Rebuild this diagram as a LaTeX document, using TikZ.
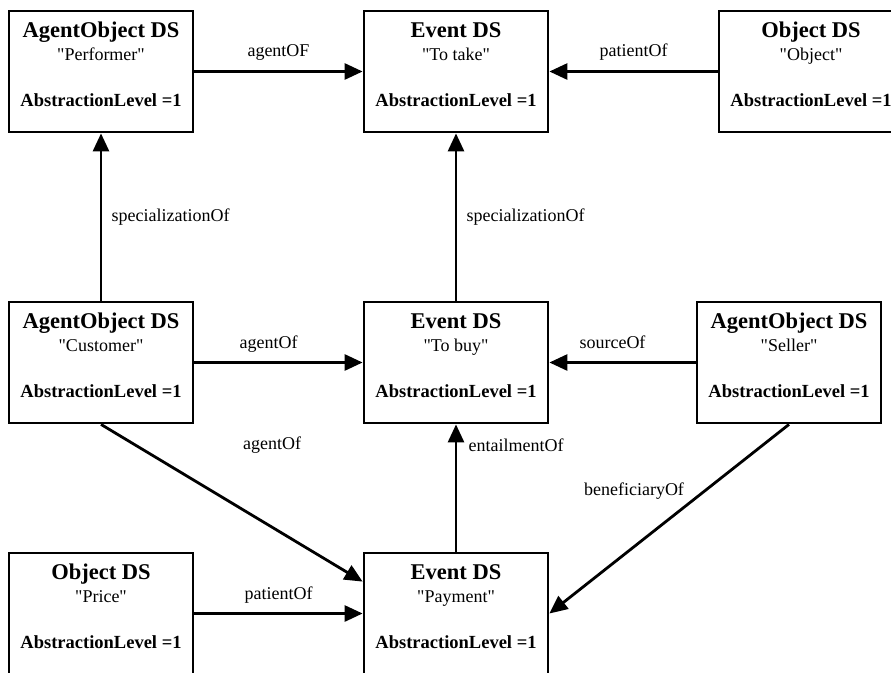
\documentclass[tikz,border=0pt]{standalone}
\usepackage{fontspec}
\newfontfamily\dsfont{Liberation Serif}
\usetikzlibrary{arrows.meta}

\tikzset{
  dsbox/.style={draw, line width=2.8pt, minimum width=184pt, minimum height=121pt, inner sep=0pt},
  dstitle/.style={anchor=base, font=\dsfont\fontsize{22.5}{24}\selectfont\bfseries},
  dsname/.style={anchor=base, font=\dsfont\fontsize{18}{20}\selectfont},
  dslevel/.style={anchor=base, font=\dsfont\fontsize{18.5}{20}\selectfont\bfseries},
  rel/.style={line width=2.8pt, -{Triangle[length=18pt,width=16pt]}},
  rellabel/.style={font=\dsfont\fontsize{18}{20}\selectfont},
}

% one description scheme box: name, centre, title, instance
\newcommand{\dsnode}[4]{%
  \node[dsbox] (#1) at (#2) {};
  \node[dstitle] (#1-title) at ([yshift=-28pt]#1.north) {#3};
  \node[dsname] (#1-name) at ([yshift=-51pt]#1.north) {"#4"};
  \node[dslevel] (#1-level) at ([yshift=-97pt]#1.north) {AbstractionLevel =1};
}

\begin{document}
\begin{tikzpicture}[x=1pt, y=-1pt]
\useasboundingbox (0,0) rectangle (891,672);

% Boxes
\dsnode{perf}{101,71.5}{AgentObject DS}{Performer}
\dsnode{take}{456,71.5}{Event DS}{To take}
\dsnode{obj}{811,71.5}{Object DS}{Object}
\dsnode{cust}{101,362.5}{AgentObject DS}{Customer}
\dsnode{buy}{456,362.5}{Event DS}{To buy}
\dsnode{seller}{789,362.5}{AgentObject DS}{Seller}
\dsnode{price}{101,613.5}{Object DS}{Price}
\dsnode{pay}{456,613.5}{Event DS}{Payment}

% Relations
\draw[rel] (perf) -- (take) node[rellabel, midway, anchor=base, yshift=15pt] (l1) {agentOF};
\draw[rel] (obj) -- (take) node[rellabel, midway, anchor=base, yshift=15pt] (l2) {patientOf};
\draw[rel] (cust) -- (perf) node[rellabel, midway, anchor=west, xshift=6pt] (l3) {specializationOf};
\draw[rel] (buy) -- (take) node[rellabel, midway, anchor=west, xshift=6pt] (l4) {specializationOf};
\draw[rel] (cust) -- (buy) node[rellabel, midway, anchor=base, yshift=14pt, xshift=-10pt] (l5) {agentOf};
\draw[rel] (seller) -- (buy) node[rellabel, midway, anchor=base, yshift=14pt, xshift=-10pt] (l6) {sourceOf};
\draw[rel] (cust.south) -- ([yshift=-30pt]pay.north west);
\draw[rel] (pay) -- (buy);
\draw[rel] (seller.south) -- (pay.east);
\draw[rel] (price) -- (pay) node[rellabel, midway, anchor=base, yshift=14pt] (l10) {patientOf};

% labels of the lower links
\node[rellabel] (l7) at (272,445) {agentOf};
\node[rellabel, anchor=west] (l8) at (465,445) {entailmentOf};
\node[rellabel] (l9) at (634,491) {beneficiaryOf};

\end{tikzpicture}
\end{document}
